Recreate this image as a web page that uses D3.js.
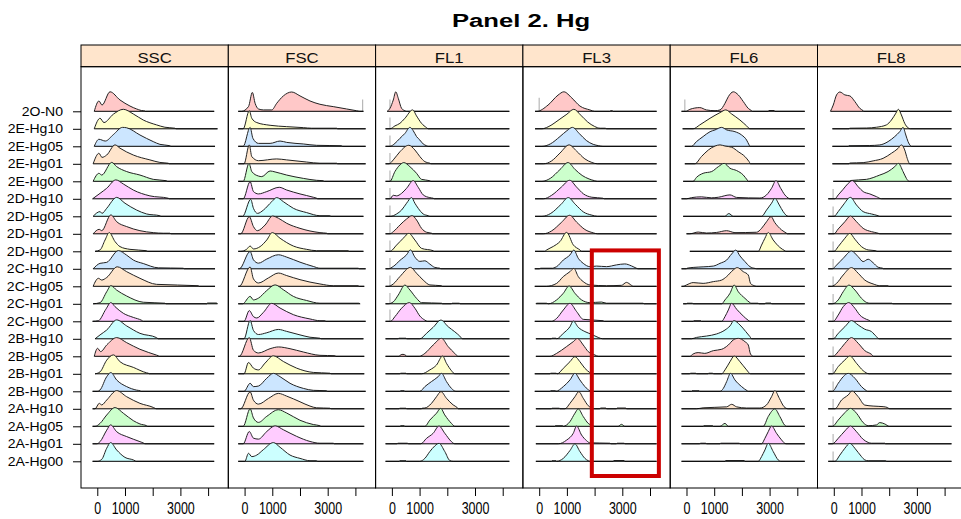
<!DOCTYPE html>
<html>
<head>
<meta charset="utf-8">
<script src="https://cdn.jsdelivr.net/npm/d3@7"></script>
<style>
  body { margin: 0; background: #fff; }
  svg { display: block; }
  text { font-family: "Liberation Sans", Arial, sans-serif; }
</style>
</head>
<body>
<svg id="chart" width="961" height="519"></svg>
<script>
// Samples, top row first
const samples = ["2O-N0","2E-Hg10","2E-Hg05","2E-Hg01","2E-Hg00","2D-Hg10","2D-Hg05","2D-Hg01","2D-Hg00",
  "2C-Hg10","2C-Hg05","2C-Hg01","2C-Hg00","2B-Hg10","2B-Hg05","2B-Hg01","2B-Hg00",
  "2A-Hg10","2A-Hg05","2A-Hg01","2A-Hg00"];
const channels = ["SSC","FSC","FL1","FL3","FL6","FL8"];
const xTicks = [0, 1000, 2000, 3000, 4000];
const xTickLabels = ["0", "1000", "", "3000", ""];

// Scaled densities per sample: flat [value, relative height, ...] pairs.
// The first and last value bound the sample's data range (baseline).
const ssc = [
  [-110,0, 60,.53, 170,.32, 460,1, 820,.58, 1180,.27, 1420,.12, 1660,.03, 1700,.03, 1730,0, 4220,0],
  [-110,0, 100,.54, 240,.32, 580,.75, 940,1, 1300,.76, 1660,.45, 2140,.2, 2440,.08, 2800,.03, 2840,0, 4340,0],
  [-110,0, 60,.36, 290,.27, 580,.6, 910,.97, 1060,.95, 1540,.58, 2020,.24, 2260,.1, 2620,.03, 2660,0, 4250,0],
  [-150,0, 60,.54, 170,.33, 340,.45, 640,.97, 820,.8, 1300,.45, 1900,.2, 2260,.07, 2560,.03, 2600,0, 4220,0],
  [-150,0, 60,.41, 160,.32, 520,.97, 700,.75, 1060,.5, 1540,.32, 2020,.1, 2500,.03, 2540,0, 4220,0],
  [-170,0, 100,.28, 340,.54, 670,.97, 940,.76, 1300,.45, 1900,.15, 2560,.03, 2600,0, 4250,0],
  [-150,0, 100,.24, 170,.15, 340,.41, 700,.97, 1000,.67, 1420,.32, 1780,.12, 2260,.03, 2300,0, 4220,0],
  [-150,0, 70,.23, 160,.16, 490,.97, 700,.62, 1060,.37, 1540,.16, 2020,.06, 2380,.03, 2620,.03, 2660,0, 4250,0],
  [-80,0, 100,.07, 280,.58, 430,.96, 640,.5, 820,.24, 1180,.1, 1780,.03, 1820,0, 4280,0],
  [-150,0, 100,.28, 340,.33, 760,.93, 1060,.7, 1300,.45, 1660,.27, 2200,.05, 3100,.03, 3140,0, 4250,0],
  [-150,0, 40,.41, 160,.32, 340,.45, 720,1, 1060,.75, 1540,.41, 2140,.1, 3650,.03, 3680,0, 4250,0],
  [-150,0, 100,.06, 340,.62, 490,.93, 700,.7, 1060,.4, 1660,.08, 2440,.03, 2480,0, 3950,0, 3980,.04, 4300,.04, 4340,0],
  [-170,0, 40,.03, 310,.62, 490,.96, 640,.75, 940,.41, 1300,.2, 1600,.05, 1660,0, 4220,0],
  [-80,0, 100,.2, 340,.45, 700,.97, 1060,.66, 1540,.28, 2140,.06, 2200,0, 4250,0],
  [-110,0, 10,.41, 120,.24, 340,.58, 700,.96, 1060,.7, 1540,.36, 2140,.06, 2200,.03, 2240,0, 4250,0],
  [-80,0, 100,.1, 340,.7, 580,.97, 820,.62, 1300,.33, 1780,.05, 1840,.03, 1880,0, 4220,0],
  [-170,0, 0,0, 100,.07, 340,.75, 490,.96, 700,.58, 1060,.24, 1420,.06, 1540,.03, 1580,0, 4220,0],
  [-170,0, -80,0, 70,.28, 160,.2, 340,.45, 700,.93, 1060,.62, 1540,.28, 2020,.07, 2080,.03, 2120,0, 4220,0],
  [-170,0, -80,0, 100,.15, 340,.58, 640,.96, 940,.67, 1300,.29, 1540,.12, 1780,.03, 1820,0, 4220,0],
  [-170,0, -20,0, 100,.11, 340,.7, 480,.97, 700,.62, 1060,.37, 1540,.11, 1680,.03, 1720,0, 4220,0],
  [-170,0, 0,0, 160,.1, 340,.67, 480,.96, 700,.58, 1000,.2, 1300,.07, 1360,.03, 1400,0, 4220,0]
];
const fsc = [
  [-230,0, -110,0, 140,.24, 280,.97, 380,.41, 500,.12, 680,.07, 980,.07, 1160,.41, 1400,.79, 1700,.99, 2000,.79, 2360,.53, 2720,.36, 3200,.24, 3680,.12, 4040,.03, 4160,0, 4290,0],
  [-230,0, -50,0, 170,.93, 260,.54, 440,.32, 920,.18, 1520,.11, 2120,.06, 2420,.03, 3320,.03, 3360,0, 4370,0],
  [-230,0, -50,0, 200,.97, 300,.41, 500,.15, 920,.15, 1280,.27, 1520,.2, 2120,.12, 2600,.05, 3500,.03, 3540,0, 4370,0],
  [-230,0, -20,0, 170,.97, 260,.37, 500,.16, 1160,.25, 1520,.2, 2240,.09, 2720,.03, 3320,.03, 3360,0, 4370,0],
  [-230,0, -50,0, 160,.92, 260,.5, 500,.27, 620,.24, 920,.53, 1100,.48, 1520,.32, 2120,.15, 2600,.05, 2840,.03, 2880,0, 4370,0],
  [-230,0, -50,0, 200,.88, 320,.37, 500,.25, 800,.37, 1250,.59, 1520,.45, 2000,.25, 2480,.08, 2600,.03, 2640,0, 4290,0],
  [-230,0, -70,0, 220,.87, 320,.41, 470,.15, 680,.32, 980,.75, 1160,.96, 1400,.75, 1760,.41, 2240,.19, 2720,.03, 3080,.03, 3120,0, 4290,0],
  [-230,0, -140,0, 170,.88, 320,.37, 460,.16, 740,.45, 1010,.91, 1220,.8, 1520,.54, 2000,.28, 2720,.06, 2960,.03, 3000,0, 4290,0],
  [-230,0, -140,0, 70,.1, 200,.27, 320,.12, 560,.24, 800,.58, 1000,.96, 1280,.67, 1760,.27, 2240,.1, 2600,.03, 3740,.03, 3780,0, 4290,0],
  [-230,0, -190,0, 200,.89, 320,.46, 500,.29, 800,.5, 1220,.72, 1520,.6, 2000,.34, 2480,.12, 2720,.03, 4100,.03, 4140,0, 4370,0],
  [-230,0, -190,0, 200,.99, 320,.38, 500,.17, 860,.43, 1220,.68, 1520,.55, 2000,.34, 2720,.12, 3200,.03, 4100,.03, 4140,0, 4320,0],
  [-230,0, -70,0, 200,.38, 320,.2, 500,.29, 800,.68, 1100,.97, 1400,.72, 1760,.38, 2240,.17, 2720,.03, 4120,.03, 4170,0],
  [-230,0, -20,0, 170,.55, 320,.24, 440,.17, 680,.46, 980,.92, 1280,.68, 1760,.34, 2360,.12, 2720,.03, 2900,.03, 2940,0, 4370,0],
  [-230,0, -20,0, 200,.94, 320,.43, 500,.22, 800,.31, 1220,.48, 1520,.38, 2000,.2, 2360,.08, 2720,.03, 2760,0, 4290,0],
  [-230,0, -190,0, 170,.96, 320,.31, 500,.17, 920,.39, 1220,.48, 1640,.39, 2120,.22, 2720,.05, 3260,.03, 3300,0, 4320,0],
  [-230,0, -20,0, 140,.58, 320,.29, 500,.2, 740,.55, 1040,.92, 1400,.63, 1880,.29, 2480,.07, 3080,.03, 3120,0, 4320,0],
  [-230,0, -20,0, 200,.41, 320,.24, 500,.27, 800,.67, 1040,.92, 1280,.75, 1640,.41, 2120,.15, 2480,.05, 2960,.03, 3000,0, 4370,0],
  [-230,0, -140,0, 200,.87, 320,.44, 500,.24, 860,.53, 1220,.79, 1520,.65, 2000,.36, 2360,.14, 2600,.05, 3080,.03, 3120,0, 4320,0],
  [-230,0, -50,0, 200,.9, 320,.43, 500,.2, 800,.51, 1220,.85, 1520,.68, 2000,.31, 2480,.09, 2720,.03, 2760,0, 4320,0],
  [-230,0, -50,0, 170,.63, 320,.29, 500,.24, 800,.63, 1100,.92, 1400,.72, 1880,.38, 2360,.12, 2720,.03, 3200,.03, 3240,0, 4290,0],
  [-230,0, 10,0, 140,.41, 260,.24, 440,.32, 680,.6, 1040,.96, 1280,.72, 1640,.32, 2000,.15, 2360,.03, 2600,.03, 2640,0, 4290,0]
];
const fl1 = [
  [-170,0, -70,.15, 50,.58, 140,1, 230,.67, 350,.15, 470,.03, 530,0, 4240,0],
  [-230,0, -70,0, 110,.15, 290,.28, 470,.54, 750,.97, 890,.66, 1070,.28, 1250,.06, 1310,0, 4240,0],
  [-230,0, -70,0, 110,.15, 290,.41, 470,.66, 650,.97, 770,.8, 890,.5, 1010,.32, 1130,.12, 1250,.03, 1310,0, 4240,0],
  [-230,0, -100,0, 50,.2, 290,.62, 610,.95, 830,.71, 1010,.37, 1190,.11, 1370,.03, 1410,0, 4240,0],
  [-230,0, -70,0, 110,.5, 290,.84, 430,.96, 650,.75, 890,.41, 1070,.1, 1370,.03, 1410,0, 4240,0],
  [-230,0, -70,0, 50,.18, 170,.15, 350,.28, 530,.54, 770,.93, 950,.59, 1130,.2, 1370,.06, 1490,.03, 1530,0, 4240,0],
  [-230,0, -50,0, 170,.12, 350,.32, 530,.67, 710,.96, 830,.67, 950,.41, 1130,.12, 1310,.03, 1370,0, 4240,0],
  [-230,0, -70,0, 50,.11, 290,.45, 530,.76, 730,.93, 890,.71, 1070,.28, 1250,.08, 1430,.03, 1470,0, 4240,0],
  [-230,0, -70,0, 170,.32, 410,.67, 610,.92, 830,.58, 1070,.15, 1490,.03, 1530,0, 4240,0],
  [-230,0, -130,0, 50,.12, 290,.43, 530,.72, 670,.97, 830,.6, 1010,.38, 1190,.41, 1370,.24, 1550,.07, 1730,.03, 1770,0, 4240,0],
  [-230,0, -130,0, 50,.12, 290,.5, 670,.97, 890,.67, 1130,.32, 1370,.07, 1790,.03, 1830,0, 4240,0],
  [-230,0, -130,0, 50,.1, 230,.45, 470,.96, 650,.71, 890,.28, 1070,.06, 1790,.03, 1830,0, 2150,0, 2170,.03, 2440,.03, 2460,0, 4240,0],
  [-230,0, -50,0, 110,.24, 350,.67, 630,.96, 830,.67, 1010,.27, 1190,.06, 1280,0, 4240,0],
  [-230,0, 230,0, 250,.03, 510,.03, 530,0, 1010,0, 1250,.28, 1490,.59, 1770,.96, 2030,.62, 2270,.36, 2450,.14, 2550,0, 4240,0],
  [-230,0, 260,0, 320,.08, 400,.1, 500,.05, 530,0, 990,0, 1190,.15, 1490,.58, 1790,.92, 2030,.5, 2270,.15, 2390,0, 4240,0],
  [-230,0, 290,0, 310,.03, 510,.03, 530,0, 1070,0, 1370,.2, 1610,.45, 1830,.91, 1970,.54, 2150,.16, 2270,0, 4240,0],
  [-230,0, 290,0, 310,.03, 450,.03, 470,0, 1010,0, 1190,.24, 1430,.5, 1670,.75, 1790,.92, 1970,.5, 2150,.15, 2310,0, 4240,0],
  [-230,0, 260,0, 280,.03, 510,.03, 530,0, 1070,0, 1090,.03, 1190,.04, 1430,.28, 1610,.62, 1770,.88, 1970,.54, 2210,.2, 2360,.06, 2400,0, 4240,0],
  [-230,0, 290,0, 310,.03, 450,.03, 470,0, 1190,0, 1370,.32, 1610,.67, 1760,.92, 1910,.58, 2150,.15, 2270,0, 4240,0],
  [-230,0, 190,0, 210,.03, 570,.03, 590,0, 1040,0, 1250,.28, 1490,.54, 1700,.91, 1910,.54, 2150,.11, 2270,0, 4240,0],
  [-230,0, 260,0, 280,.03, 510,.03, 530,0, 1010,0, 1190,.15, 1370,.5, 1550,.79, 1700,.92, 1910,.5, 2090,.04, 2210,0, 4240,0]
];
const fl3 = [
  [-150,0, -80,0, 320,.32, 680,.83, 890,1, 1180,.68, 1470,.27, 1830,.07, 2000,0, 2550,0, 2570,.03, 2650,.03, 2670,0, 4240,0],
  [-150,0, 100,0, 320,.1, 750,.5, 1000,.75, 1250,1, 1500,.7, 1750,.35, 2000,.12, 2200,.03, 2400,.03, 2420,0, 4240,0],
  [-150,0, 100,0, 400,.12, 750,.5, 1000,.8, 1200,.97, 1450,.65, 1700,.3, 1950,.1, 2150,.03, 2300,0, 4240,0],
  [-150,0, 150,0, 450,.15, 750,.55, 1080,.97, 1350,.65, 1650,.25, 1900,.07, 2100,0, 4240,0],
  [-150,0, 100,0, 400,.15, 750,.6, 1040,.96, 1300,.6, 1550,.3, 1800,.12, 2000,.03, 2100,0, 4240,0],
  [-150,0, 150,0, 450,.18, 800,.6, 1100,.95, 1350,.6, 1600,.25, 1900,.08, 2300,.03, 2350,0, 4240,0],
  [-150,0, 100,0, 420,.15, 780,.6, 1050,.96, 1300,.62, 1600,.22, 1900,.06, 2100,0, 4240,0],
  [-150,0, 150,0, 450,.15, 800,.58, 1100,.95, 1350,.6, 1650,.22, 1950,.05, 2100,0, 4240,0],
  [-150,0, 200,0, 270,.07, 510,.25, 750,.5, 990,.97, 1230,.33, 1470,.07, 1530,0, 4240,0],
  [-160,0, 20,0, 40,.03, 490,.03, 510,.04, 630,.11, 870,.45, 1110,.71, 1250,.96, 1410,.54, 1590,.28, 1830,.11, 2070,.14, 2430,.11, 2790,.2, 3090,.25, 3330,.15, 3510,.03, 3570,0, 4240,0],
  [-160,0, 260,0, 630,.15, 870,.5, 1110,.75, 1250,.92, 1410,.5, 1590,.24, 1830,.07, 2430,.03, 2970,.05, 3150,.2, 3330,.05, 3390,0, 4240,0],
  [-120,0, -90,.03, 260,.03, 330,0, 630,.2, 870,.54, 1080,.91, 1290,.54, 1530,.2, 1830,.06, 2250,.09, 2430,.03, 3750,.03, 3790,0, 4240,0],
  [-160,0, 450,0, 630,.15, 870,.58, 1110,.92, 1350,.5, 1590,.1, 2310,.03, 2350,0, 4240,0],
  [-120,0, 440,0, 460,.03, 610,.03, 630,0, 870,.28, 1110,.62, 1230,.91, 1410,.59, 1650,.37, 1890,.23, 2130,.07, 2290,0, 4240,0],
  [-120,0, 390,0, 630,.15, 990,.5, 1230,.75, 1380,.91, 1590,.58, 1770,.24, 2010,.07, 2130,0, 4240,0],
  [-160,0, 390,0, 410,.03, 610,.03, 650,0, 870,.28, 1110,.62, 1290,.88, 1470,.62, 1650,.28, 1830,.06, 1890,0, 4240,0],
  [-160,0, 390,0, 410,.03, 590,.03, 600,0, 870,.24, 1110,.58, 1290,.92, 1470,.58, 1650,.24, 1830,.03, 1890,0, 4240,0],
  [-120,0, 440,0, 460,.03, 730,.03, 750,0, 930,0, 1110,.28, 1290,.62, 1430,.88, 1590,.54, 1770,.16, 1890,.04, 2010,0, 2190,0, 2210,.04, 2410,.04, 2430,0, 2790,0, 2810,.04, 3130,.04, 3150,0, 4240,0],
  [-120,0, 560,0, 580,.03, 850,.03, 870,0, 1110,.24, 1290,.67, 1410,.89, 1590,.5, 1770,.15, 1890,.05, 2010,0, 2850,0, 2970,.1, 3090,0, 4240,0],
  [-120,0, 690,0, 990,.19, 1230,.54, 1350,.91, 1530,.45, 1710,.16, 1830,.05, 2550,.03, 2590,0, 2790,0, 2810,.03, 3070,.03, 3090,0, 4240,0],
  [-120,0, 440,0, 460,.03, 610,.03, 630,0, 870,.15, 1110,.55, 1290,.89, 1470,.5, 1650,.15, 1770,.03, 1830,0, 2670,0, 2690,.04, 3070,.04, 3090,0, 4240,0]
];
const fl6 = [
  [-180,0, -20,0, 120,.1, 480,.19, 720,.07, 1030,.03, 1210,.07, 1390,.41, 1510,.75, 1690,1, 1870,.84, 2050,.5, 2230,.15, 2350,.03, 2380,0, 2950,0, 2970,.04, 3170,.04, 3190,0, 4270,0],
  [-140,0, 240,0, 480,.2, 850,.54, 1210,.83, 1420,.97, 1630,.76, 1930,.45, 2170,.15, 2290,0, 4270,0],
  [-60,0, 180,0, 360,.24, 600,.5, 850,.75, 1030,.84, 1270,.97, 1450,.84, 1750,.75, 1990,.58, 2170,.32, 2260,.07, 2290,0, 4270,0],
  [-60,0, 300,0, 540,.37, 790,.71, 1030,.91, 1210,.97, 1390,.91, 1630,.85, 1870,.62, 2110,.37, 2260,.11, 2310,0, 4270,0],
  [-120,0, 240,0, 360,.2, 600,.41, 910,.5, 1150,.75, 1360,.92, 1570,.67, 1810,.55, 2050,.32, 2190,.07, 2230,0, 4270,0],
  [-180,0, 0,0, 180,.06, 540,.1, 900,.05, 1150,.08, 1570,.2, 1810,.07, 2650,.04, 2890,.2, 3070,.54, 3230,.93, 3400,.54, 3550,.2, 3670,.04, 3730,0, 4270,0],
  [-120,0, 1380,0, 1530,.14, 1690,0, 2710,0, 2890,.32, 3070,.67, 3190,.92, 3350,.58, 3490,.24, 3670,0, 4270,0],
  [0,0, 120,0, 420,.09, 720,.04, 1090,.07, 1450,.16, 1750,.06, 2530,.08, 2710,.28, 2890,.62, 3050,.88, 3190,.57, 3430,.2, 3610,.03, 3640,0, 4270,0],
  [120,0, 2590,0, 2710,.32, 2830,.67, 2950,.96, 3130,.58, 3370,.2, 3550,.03, 3590,0, 4270,0],
  [-180,0, 0,0, 20,.03, 240,.07, 600,.1, 970,.14, 1210,.28, 1450,.45, 1630,.76, 1780,.96, 1930,.66, 2110,.37, 2290,.11, 2470,.02, 2530,0, 4270,0],
  [-180,0, -120,0, 0,.07, 240,.19, 600,.15, 970,.24, 1270,.32, 1450,.5, 1690,.84, 1830,.96, 2050,.75, 2230,.58, 2310,.15, 2410,.05, 2530,0, 4270,0],
  [-120,0, 0,0, 20,.03, 220,.03, 240,0, 1270,0, 1390,.2, 1570,.54, 1720,.96, 1870,.62, 2110,.28, 2290,.06, 2330,.03, 2590,.03, 2610,0, 2830,0, 2850,.04, 3050,.04, 3070,0, 4270,0],
  [-180,0, 240,0, 260,.03, 520,.03, 540,0, 1270,0, 1390,.24, 1510,.58, 1630,.92, 1810,.62, 2050,.27, 2230,.05, 2290,0, 4270,0],
  [-180,0, 180,0, 360,.07, 720,.14, 1090,.25, 1390,.45, 1570,.66, 1710,.93, 1930,.71, 2140,.37, 2290,.11, 2350,0, 4270,0],
  [-180,0, 120,0, 240,.12, 420,.19, 660,.15, 970,.29, 1270,.36, 1510,.58, 1690,.84, 1870,.92, 2110,.75, 2230,.58, 2310,.12, 2410,0, 4270,0],
  [-180,0, 120,0, 140,.03, 340,.03, 360,0, 780,0, 800,.03, 950,.03, 970,0, 1270,0, 1390,.2, 1570,.62, 1720,.91, 1930,.62, 2170,.2, 2310,0, 4270,0],
  [-180,0, 180,0, 200,.03, 460,.03, 480,0, 1210,0, 1330,.15, 1450,.5, 1590,.92, 1750,.58, 1990,.24, 2190,.03, 2230,0, 4270,0],
  [-180,0, 360,0, 600,.05, 1450,.1, 1630,.23, 1810,.1, 2170,.04, 2650,.04, 2890,.2, 3070,.62, 3190,.93, 3350,.54, 3520,.11, 3670,0, 4270,0],
  [-180,0, 600,0, 620,.03, 950,.03, 970,0, 1210,0, 1390,.15, 1510,0, 2770,0, 2950,.5, 3190,.89, 3370,.5, 3550,.05, 3610,0, 4270,0],
  [-180,0, 480,0, 500,.03, 700,.03, 720,0, 1210,0, 1230,.03, 1910,.03, 1930,0, 2710,0, 2830,.28, 2950,.62, 3070,.91, 3250,.54, 3430,.2, 3590,0, 4270,0],
  [-180,0, 1390,0, 1410,.04, 2090,.04, 2110,0, 2590,0, 2710,.24, 2830,.58, 2950,.92, 3130,.5, 3310,.07, 3400,0, 4270,0]
];
const fl8 = [
  [-120,0, -20,.32, 100,.84, 220,.99, 400,.84, 580,.79, 760,.5, 940,.15, 1060,.03, 1080,0, 4250,0],
  [-50,0, 550,0, 570,.03, 1180,.04, 1540,.08, 1900,.2, 2080,.45, 2240,.8, 2330,1, 2440,.71, 2560,.28, 2680,.05, 2770,0, 4250,0],
  [-50,0, 520,0, 540,.03, 1300,.04, 1660,.07, 1960,.24, 2200,.5, 2380,.75, 2500,.97, 2600,.58, 2680,.24, 2770,.03, 2800,0, 4250,0],
  [-50,0, 550,0, 570,.04, 1060,.06, 1420,.15, 1780,.28, 2080,.54, 2320,.79, 2440,.97, 2560,.71, 2650,.28, 2720,.03, 2740,0, 4250,0],
  [-20,0, 580,0, 600,.04, 1180,.1, 1660,.32, 1960,.5, 2200,.75, 2330,.92, 2500,.5, 2620,.15, 2680,.03, 2720,0, 4250,0],
  [-200,0, 40,0, 160,.2, 340,.49, 520,.79, 670,.93, 880,.62, 1060,.37, 1300,.25, 1540,.11, 1720,0, 4250,0],
  [-200,0, 10,0, 160,.24, 340,.58, 600,.97, 820,.58, 1060,.24, 1360,.12, 1600,.03, 1660,0, 4250,0],
  [-200,0, 10,0, 160,.25, 400,.62, 600,.91, 820,.62, 1060,.28, 1360,.11, 1600,.03, 1660,0, 4250,0],
  [-200,0, 10,0, 160,.24, 400,.67, 580,.92, 760,.62, 1000,.24, 1240,.07, 1520,.03, 1560,0, 4250,0],
  [-200,0, -50,0, 100,.19, 340,.54, 640,.91, 880,.62, 1060,.37, 1240,.49, 1420,.31, 1600,.08, 1760,.03, 1790,0, 4250,0],
  [-200,0, -80,0, 100,.15, 340,.58, 640,.96, 880,.67, 1120,.32, 1420,.12, 1660,.03, 1960,.03, 1990,0, 4250,0],
  [-200,0, -50,0, 160,.2, 340,.62, 550,.96, 760,.71, 1000,.28, 1180,.07, 1300,.03, 2100,.03, 2130,0, 4250,0],
  [-200,0, -20,0, 160,.32, 340,.75, 540,.96, 760,.67, 940,.32, 1180,.1, 1300,.03, 1330,0, 4250,0],
  [-200,0, -20,0, 160,.28, 400,.62, 640,.93, 880,.71, 1120,.49, 1360,.37, 1540,.11, 1640,0, 4250,0],
  [-200,0, -20,0, 160,.24, 400,.66, 640,.96, 880,.67, 1120,.29, 1360,.1, 1440,0, 4250,0],
  [-200,0, -50,0, 160,.37, 400,.71, 580,.91, 820,.54, 1060,.16, 1280,0, 4250,0],
  [-200,0, -50,0, 160,.41, 340,.75, 520,.92, 760,.67, 1000,.24, 1180,.03, 1220,0, 4250,0],
  [-200,0, 40,0, 280,.45, 520,.71, 660,.91, 880,.62, 1120,.19, 1420,.14, 1780,.11, 1930,.07, 2020,0, 4250,0],
  [-200,0, -50,0, 160,.32, 400,.7, 600,.92, 820,.67, 1060,.19, 1240,.03, 1540,.07, 1660,.19, 1840,.12, 2000,0, 4250,0],
  [-200,0, -50,0, 160,.28, 400,.66, 600,.91, 820,.62, 1060,.23, 1240,.07, 1360,.03, 1840,.03, 1870,0, 4250,0],
  [-200,0, 40,0, 220,.32, 400,.67, 580,.92, 760,.67, 1000,.24, 1120,.07, 1240,.03, 1880,.03, 1910,0, 4250,0]
];

// Boundary pile-ups drawn as grey spikes: [channel, row, value, relative height]
const spikes = [
  ["FSC",0,4260,.6], ["FL3",0,0,.7], ["FL6",0,-60,.6],
  ["FL1",0,-70,.6], ["FL1",1,-70,.58], ["FL1",2,-70,.55], ["FL1",3,-70,.55], ["FL1",4,-70,.55],
  ["FL1",5,-70,.55], ["FL1",6,-70,.55], ["FL1",7,-70,.55], ["FL1",8,-70,.55], ["FL1",9,-70,.55],
  ["FL1",10,-70,.55], ["FL1",11,-70,.55], ["FL1",12,-70,.6],
  ["FL8",5,-25,.5], ["FL8",6,-25,.5], ["FL8",7,-25,.5], ["FL8",8,-25,.5], ["FL8",9,-25,.5],
  ["FL8",10,-25,.5], ["FL8",11,-25,.5], ["FL8",12,-25,.5], ["FL8",13,-25,.5], ["FL8",14,-25,.5],
  ["FL8",15,-25,.5], ["FL8",16,-25,.5], ["FL8",17,-25,.5], ["FL8",18,-25,.5], ["FL8",19,-25,.5], ["FL8",20,-25,.5]
];

// Boxed region in the FL3 panel (value range, row range)
const highlight = { channel: "FL3", from: 1900, to: 4320, top: 7.95, bottom: 20.84 };

const palette = ["#CCFFFF", "#FFCCFF", "#CCFFCC", "#FFE5CC", "#CCE6FF", "#FFFFCC", "#FFC8C8"];
const densities = { SSC: ssc, FSC: fsc, FL1: fl1, FL3: fl3, FL6: fl6, FL8: fl8 };

const svg = d3.select("#chart");
const left = 81, panelW = 147.3;
const stripTop = 45, plotTop = 66.7, plotBottom = 488;

const y = d3.scalePoint().domain(samples).range([111.3, 461.3]);
const hgt = d3.scaleLinear().domain([0, 1]).range([0, 19.5]);
const pairs = a => d3.range(0, a.length, 2).map(i => [a[i], a[i + 1]]);

// Title
svg.append("text")
  .attr("transform", "translate(521,27) scale(1.35,1)")
  .attr("text-anchor", "middle")
  .style("font-weight", "bold").style("font-size", "19px")
  .text("Panel 2. Hg");

channels.forEach((ch, p) => {
  const x0 = left + p * panelW;
  const x = d3.scaleLinear().domain([-588, 4729]).range([x0, x0 + panelW]);
  const g = svg.append("g");

  // strip
  g.append("rect").attr("x", x0).attr("y", stripTop).attr("width", panelW)
    .attr("height", plotTop - stripTop).attr("fill", "#FFE5CC").attr("stroke", "#000");
  g.append("text").attr("transform", `translate(${x0 + panelW / 2},62.5) scale(1.08,1)`)
    .attr("text-anchor", "middle").style("font-size", "15.5px").attr("fill", "#111").text(ch);

  // panel frame
  g.append("rect").attr("x", x0).attr("y", plotTop).attr("width", panelW)
    .attr("height", plotBottom - plotTop).attr("fill", "none").attr("stroke", "#000");

  samples.forEach((s, r) => {
    const base = y(s);
    const pts = pairs(densities[ch][r]);
    const row = g.append("g");
    spikes.filter(d => d[0] === ch && d[1] === r).forEach(d => {
      row.append("line").attr("x1", x(d[2])).attr("x2", x(d[2]))
        .attr("y1", base).attr("y2", base - hgt(d[3]))
        .attr("stroke", "#b8b8b8").attr("stroke-width", 1.2);
    });
    const area = d3.area().x(d => x(d[0])).y0(base).y1(d => base - hgt(d[1])).curve(d3.curveMonotoneX);
    const line = d3.line().x(d => x(d[0])).y(d => base - hgt(d[1])).curve(d3.curveMonotoneX);
    row.append("path").attr("d", area(pts)).attr("fill", palette[(samples.length - 1 - r) % palette.length]);
    row.append("path").attr("d", line(pts)).attr("fill", "none").attr("stroke", "#222").attr("stroke-width", 1);
    row.append("line").attr("x1", x(pts[0][0])).attr("x2", x(pts[pts.length - 1][0]))
      .attr("y1", base).attr("y2", base).attr("stroke", "#000").attr("stroke-width", 1);
  });

  // bottom axis
  const ax = g.append("g").attr("transform", `translate(0,${plotBottom})`)
    .call(d3.axisBottom(x).tickValues(xTicks).tickSize(8).tickPadding(7)
      .tickFormat((d, i) => xTickLabels[i]));
  ax.select(".domain").remove();
  ax.selectAll("line").attr("stroke", "#000");
  ax.selectAll("text").style("font-size", "16px").attr("fill", "#000")
    .attr("transform", "scale(0.78,1)").style("font-family", "'Liberation Sans', Arial, sans-serif");

  if (ch === highlight.channel) {
    const yTop = y(samples[0]) + highlight.top * y.step();
    const yBot = y(samples[0]) + highlight.bottom * y.step();
    g.append("rect").attr("x", x(highlight.from)).attr("y", yTop)
      .attr("width", x(highlight.to) - x(highlight.from)).attr("height", yBot - yTop)
      .attr("fill", "none").attr("stroke", "#CC0000").attr("stroke-width", 4);
  }
});

// sample axis
const ySx = 1.08;
const ay = svg.append("g").attr("transform", `translate(${left},0)`)
  .call(d3.axisLeft(y).tickSize(8).tickPadding(10));
ay.select(".domain").remove();
ay.selectAll("line").attr("stroke", "#000");
ay.selectAll("text").style("font-size", "13px").attr("fill", "#000")
  .style("font-family", "'Liberation Sans', Arial, sans-serif")
  .attr("x", -18 / ySx).attr("transform", `scale(${ySx},1)`);
</script>
</body>
</html>
